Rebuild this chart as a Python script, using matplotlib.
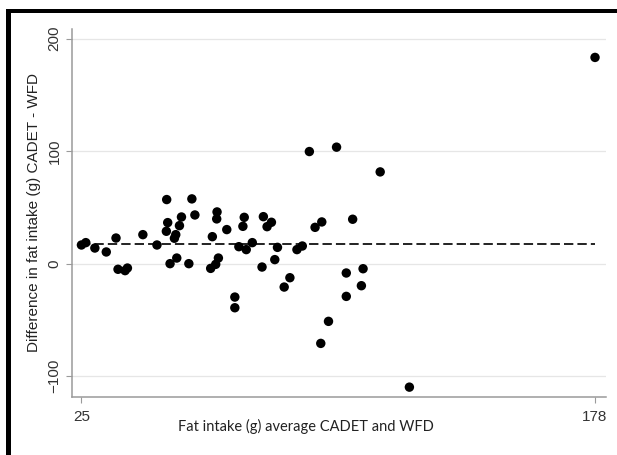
import matplotlib
matplotlib.use("Agg")
import matplotlib.pyplot as plt
from matplotlib.patches import Rectangle

plt.rcParams["font.family"] = ["Liberation Sans", "DejaVu Sans"]

# Bland-Altman data: average fat intake (g) and difference CADET - WFD (g)
avg_fat = [25.0, 26.3, 29.0, 32.4, 35.3, 35.9, 38.0, 38.7, 43.3, 47.5,
           50.3, 50.4, 50.7, 51.4, 52.7, 53.1, 53.4, 54.2, 54.8, 57.0,
           57.9, 58.8, 63.5, 64.0, 65.0, 65.3, 65.4, 65.8, 68.3, 70.7,
           70.7, 71.9, 73.1, 73.5, 74.1, 75.9, 78.8, 79.2, 80.3, 81.6,
           82.6, 83.4, 85.4, 87.1, 89.2, 90.8, 92.9, 94.6, 96.3, 96.6,
           98.6, 101.0, 103.9, 103.9, 105.8, 108.4, 108.9, 114.0, 122.7, 178.0]
diff_fat = [16.6, 18.7, 13.9, 10.4, 22.8, -5.0, -6.2, -3.9, 25.8, 16.6,
            28.8, 57.0, 36.5, 0.0, 22.6, 25.8, 5.0, 33.8, 41.5, 0.0,
            57.6, 43.3, -4.2, 24.0, -0.6, 39.8, 46.0, 5.0, 30.3, -29.7,
            -39.2, 15.1, 33.2, 41.2, 12.5, 18.7, -3.0, 41.8, 32.9, 36.8,
            3.6, 14.5, -20.8, -12.5, 12.5, 15.7, 99.7, 32.3, -70.9, 37.1,
            -51.3, 103.6, -8.3, -29.1, 39.5, -19.6, -4.5, 81.6, -109.8, 183.4]
mean_diff = 17.2
y_ticks = [-100, 0, 100, 200]
x_ticks = [25, 178]
x_label = "Fat intake (g) average CADET and WFD"
y_label = "Difference in fat intake (g) CADET - WFD"

W, H = 617, 455
fig = plt.figure(figsize=(W / 100, H / 100), dpi=100)
fig.patch.set_facecolor("white")
ax = fig.add_axes([72 / W, 1 - 396.7 / H, (606 - 72) / W, (396.7 - 29.3) / H])

for yv in y_ticks:
    ax.axhline(yv, color="#e6e6e6", lw=0.9, zorder=0)

ax.plot([min(avg_fat), max(avg_fat)], [mean_diff, mean_diff], color="#222222",
        lw=1.4, dashes=(4.8, 2.1), zorder=2)
ax.scatter(avg_fat, diff_fat, s=46, color="black", edgecolors="none", zorder=3)

ax.set_xlim(22.19, 181.27)
ax.set_ylim(-118.3, 208.4)
ax.set_yticks(y_ticks)
ax.set_xticks(x_ticks)

for s in ["top", "right"]:
    ax.spines[s].set_visible(False)
for s in ["left", "bottom"]:
    ax.spines[s].set_color("#9a9a9a")
    ax.spines[s].set_linewidth(1.1)

ax.tick_params(axis="both", colors="#9a9a9a", length=4.5, width=0.8,
               labelcolor="#333333", labelsize=11, pad=3)
ax.tick_params(axis="x", pad=5)
for lab in ax.get_yticklabels():
    lab.set_rotation(90)
    lab.set_va("center")

ax.set_ylabel(y_label, fontsize=11, color="#222222", labelpad=5)
fig.text(306 / W, 1 - 426 / H, x_label, fontsize=10.5, family=["Lato", "DejaVu Sans"],
         color="#222222", ha="center", va="center")

# thick black frame (top and left edges)
fig.add_artist(Rectangle((6 / W, 0), 5 / W, 1 - 9 / H, transform=fig.transFigure,
                         color="black", lw=0))
fig.add_artist(Rectangle((6 / W, 1 - 13 / H), 1 - 6 / W, 4 / H,
                         transform=fig.transFigure, color="black", lw=0))

fig.savefig("out.png", dpi=100)
